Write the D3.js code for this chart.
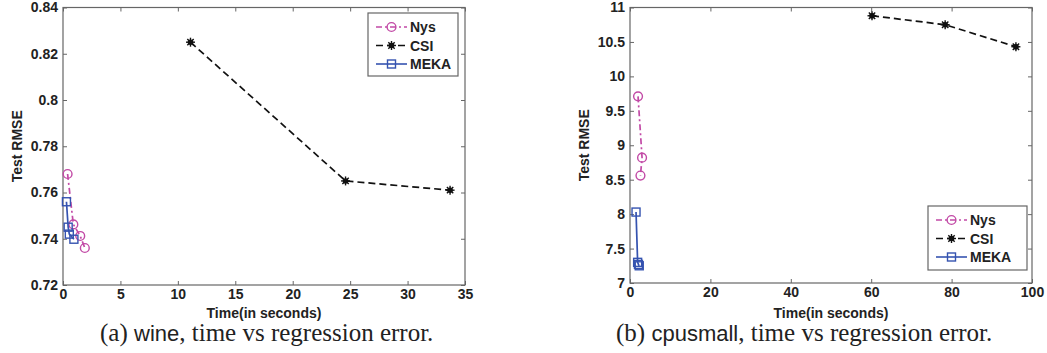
<!DOCTYPE html>
<html>
<head>
<meta charset="utf-8">
<script src="https://cdn.jsdelivr.net/npm/d3@7"></script>
<style>
  html, body { margin: 0; padding: 0; background: #fff; }
  svg { display: block; }
  .lbl { font-family: "Liberation Sans", Arial, sans-serif; font-weight: bold; font-size: 14px; fill: #222; }
  .cap { font-family: "Liberation Serif", "DejaVu Serif", serif; font-size: 25px; fill: #222; }
  .cap .sans { font-family: "Liberation Sans", Arial, sans-serif; font-size: 22px; }
</style>
</head>
<body>
<svg id="fig" width="1047" height="353"></svg>
<script>
// wine dataset: time (s) vs test RMSE
const wineNys  = [[0.4, 0.768], [0.9, 0.7462], [1.5, 0.7412], [1.9, 0.7360]];
const wineCSI  = [[11.1, 0.825], [24.6, 0.765], [33.7, 0.761]];
const wineMEKA = [[0.3, 0.756], [0.45, 0.745], [0.55, 0.742], [0.95, 0.7398]];
const wineXTicks = [0, 5, 10, 15, 20, 25, 30, 35];
const wineYTicks = [0.72, 0.74, 0.76, 0.78, 0.8, 0.82, 0.84];

// cpusmall dataset: time (s) vs test RMSE
const cpuNys  = [[2.0, 9.71], [3.0, 8.82], [2.6, 8.56]];
const cpuCSI  = [[60.2, 10.88], [78.4, 10.75], [96.0, 10.43]];
const cpuMEKA = [[1.5, 8.03], [1.9, 7.30], [2.1, 7.27], [2.3, 7.25]];
const cpuXTicks = [0, 20, 40, 60, 80, 100];
const cpuYTicks = [7, 7.5, 8, 8.5, 9, 9.5, 10, 10.5, 11];

const seriesNames = ["Nys", "CSI", "MEKA"];
const colors = { Nys: "#c24aa6", CSI: "#111111", MEKA: "#3553b0" };
const dashes = { Nys: "6,3,2,3", CSI: "7,4", MEKA: null };

const svg = d3.select("#fig");

function marker(g, name, x, y) {
  const c = colors[name];
  if (name === "Nys") {
    g.append("circle").attr("cx", x).attr("cy", y).attr("r", 4.4)
      .attr("fill", "none").attr("stroke", c).attr("stroke-width", 1.4);
  } else if (name === "MEKA") {
    g.append("rect").attr("x", x - 4).attr("y", y - 4).attr("width", 8).attr("height", 8)
      .attr("fill", "none").attr("stroke", c).attr("stroke-width", 1.4);
  } else {
    g.append("circle").attr("cx", x).attr("cy", y).attr("r", 2.8).attr("fill", c);
    for (let a = 0; a < 4; a++) {
      const t = a * Math.PI / 4;
      g.append("line")
        .attr("x1", x - 4.5 * Math.cos(t)).attr("y1", y - 4.5 * Math.sin(t))
        .attr("x2", x + 4.5 * Math.cos(t)).attr("y2", y + 4.5 * Math.sin(t))
        .attr("stroke", c).attr("stroke-width", 1.4);
    }
  }
}

function styleTicks(a) {
  a.selectAll(".tick text")
    .attr("font-family", "'Liberation Sans', Arial, sans-serif")
    .attr("font-weight", "bold")
    .attr("font-size", 14)
    .attr("fill", "#222");
}

function panel(cfg) {
  const x = d3.scaleLinear().domain(cfg.xDomain).range([cfg.left, cfg.right]);
  const y = d3.scaleLinear().domain(cfg.yDomain).range([cfg.bottom, cfg.top]);
  const g = svg.append("g");
  const axisColor = "#666";

  // frame
  g.append("rect").attr("x", cfg.left).attr("y", cfg.top)
    .attr("width", cfg.right - cfg.left).attr("height", cfg.bottom - cfg.top)
    .attr("fill", "none").attr("stroke", axisColor).attr("stroke-width", 1.2);

  const xAxis = d3.axisBottom(x).tickValues(cfg.xTicks).tickSize(-4).tickPadding(4).tickFormat(d3.format("d"));
  const yAxis = d3.axisLeft(y).tickValues(cfg.yTicks).tickSize(-4).tickPadding(5).tickFormat(cfg.fmtY);
  const xTop = d3.axisTop(x).tickValues(cfg.xTicks).tickSize(-4).tickFormat("");
  const yRight = d3.axisRight(y).tickValues(cfg.yTicks).tickSize(-4).tickFormat("");

  [[xAxis, `translate(0,${cfg.bottom})`], [yAxis, `translate(${cfg.left},0)`],
   [xTop, `translate(0,${cfg.top})`], [yRight, `translate(${cfg.right},0)`]].forEach(([ax, tr]) => {
    const a = g.append("g").attr("transform", tr).call(ax);
    a.select(".domain").remove();
    a.selectAll(".tick line").attr("stroke", axisColor).attr("stroke-width", 1);
    styleTicks(a);
  });

  // axis titles
  g.append("text").attr("class", "lbl")
    .attr("x", (cfg.left + cfg.right) / 2).attr("y", 318)
    .attr("text-anchor", "middle").text("Time(in seconds)");
  g.append("text").attr("class", "lbl")
    .attr("transform", `translate(${cfg.yLabelX},${(cfg.top + cfg.bottom) / 2}) rotate(-90)`)
    .attr("text-anchor", "middle").text("Test RMSE");

  // series
  const line = d3.line().x(d => x(d[0])).y(d => y(d[1]));
  cfg.series.forEach(([name, data]) => {
    g.append("path").datum(data).attr("d", line)
      .attr("fill", "none").attr("stroke", colors[name]).attr("stroke-width", 1.7)
      .attr("stroke-dasharray", dashes[name]);
    data.forEach(d => marker(g, name, x(d[0]), y(d[1])));
  });

  // legend
  const L = cfg.legend;
  g.append("rect").attr("x", L.x).attr("y", L.y).attr("width", L.w).attr("height", L.h)
    .attr("fill", "#fff").attr("stroke", axisColor).attr("stroke-width", 1.2);
  seriesNames.forEach((name, i) => {
    const yy = L.y + 14 + i * 18.5;
    g.append("line").attr("x1", L.x + 8).attr("x2", L.x + 39).attr("y1", yy).attr("y2", yy)
      .attr("stroke", colors[name]).attr("stroke-width", 1.6).attr("stroke-dasharray", dashes[name]);
    marker(g, name, L.x + 23.5, yy);
    g.append("text").attr("class", "lbl").attr("x", L.x + 42).attr("y", yy + 5).text(name);
  });

  // caption
  const cap = g.append("text").attr("class", "cap").attr("x", cfg.capX).attr("y", 341);
  cap.append("tspan").text(cfg.capLetter + " ");
  cap.append("tspan").attr("class", "sans").text(cfg.dataset);
  cap.append("tspan").text(", time vs regression error.");
}

panel({
  left: 63, right: 465, top: 7.5, bottom: 285,
  xDomain: [0, 35], yDomain: [0.72, 0.84],
  xTicks: wineXTicks, yTicks: wineYTicks,
  fmtY: d => String(+d.toFixed(2)),
  yLabelX: 22,
  series: [["Nys", wineNys], ["CSI", wineCSI], ["MEKA", wineMEKA]],
  legend: { x: 368, y: 13, w: 90, h: 63 },
  capX: 100, capLetter: "(a)", dataset: "wine"
});

panel({
  left: 630, right: 1032, top: 7.5, bottom: 283,
  xDomain: [0, 100], yDomain: [7, 11],
  xTicks: cpuXTicks, yTicks: cpuYTicks,
  fmtY: d => String(d),
  yLabelX: 589,
  series: [["Nys", cpuNys], ["CSI", cpuCSI], ["MEKA", cpuMEKA]],
  legend: { x: 928, y: 206, w: 99, h: 64 },
  capX: 616, capLetter: "(b)", dataset: "cpusmall"
});
</script>
</body>
</html>
